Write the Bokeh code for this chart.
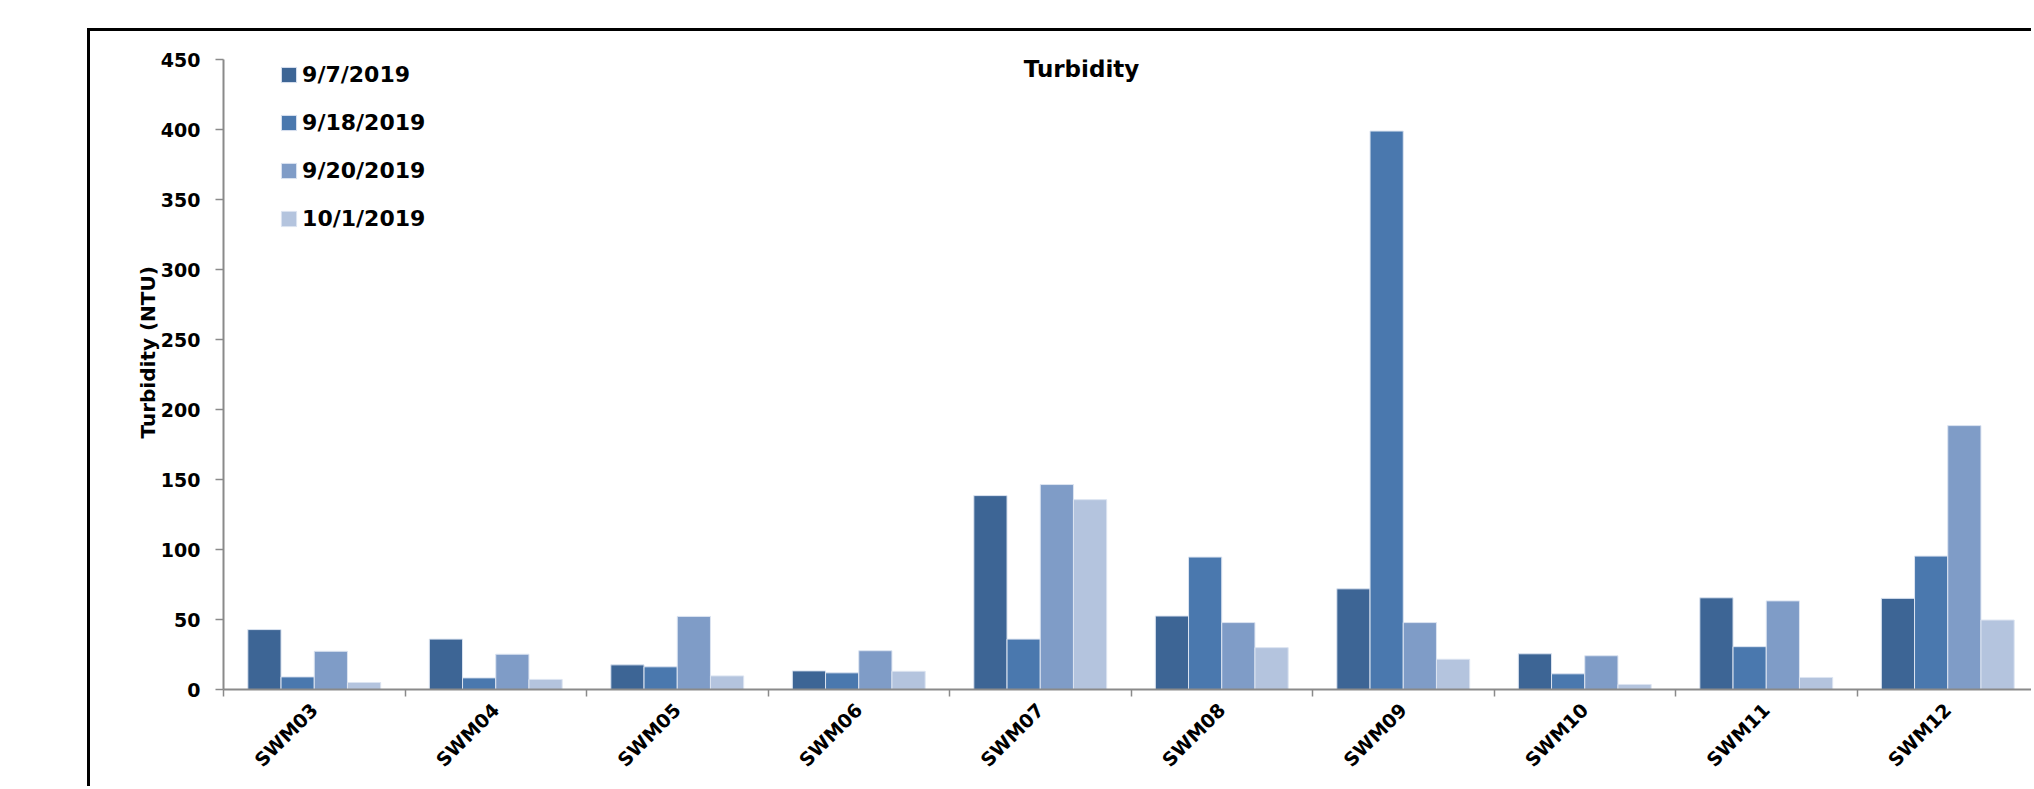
import math
import numpy as np
from bokeh.plotting import figure
from bokeh.models import Range1d, FixedTicker, Legend, LegendItem, Label, Title
from bokeh.embed import file_html
from bokeh.resources import INLINE

# Turbidity readings (NTU) per monitoring site and sampling date
sites = ["SWM03", "SWM04", "SWM05", "SWM06", "SWM07",
         "SWM08", "SWM09", "SWM10", "SWM11", "SWM12"]
dates = ["9/7/2019", "9/18/2019", "9/20/2019", "10/1/2019"]
turb_0907 = [42.8, 36.0, 17.6, 13.3, 138.5, 52.5, 71.9, 25.5, 65.5, 65.1]
turb_0918 = [9.0, 8.3, 16.2, 11.9, 36.0, 94.6, 398.9, 11.2, 30.6, 95.3]
turb_0920 = [27.3, 25.2, 52.2, 27.7, 146.4, 47.8, 47.8, 24.1, 63.3, 188.5]
turb_1001 = [5.0, 7.2, 9.7, 13.0, 135.6, 29.9, 21.6, 3.6, 8.6, 49.6]
y_ticks = [0, 50, 100, 150, 200, 250, 300, 350, 400, 450]

series = [turb_0907, turb_0918, turb_0920, turb_1001]
colors = ["#3D6595", "#4A78AE", "#7F9CC7", "#B4C4DE"]

FONT = "DejaVu Sans"
AXIS_GREY = "#8A8A8A"

# the chart area sits inside a black frame line on its left and top edges
OFF_X, OFF_Y = 90, 31
W, H = 2034 - OFF_X, 789 - OFF_Y
LEFT, TOP = 223 - OFF_X, 59 - OFF_Y
BOTTOM = H - (689 - OFF_Y)
frame_h = H - TOP - BOTTOM
cat_px = 181.5
x_end = (W - LEFT) / cat_px

p = figure(width=W, height=H, output_backend="svg", toolbar_location=None,
           x_range=Range1d(0, x_end), y_range=Range1d(0, 450),
           min_border_left=LEFT, min_border_right=0,
           min_border_top=TOP, min_border_bottom=BOTTOM)
p.styles = {"margin-left": f"{OFF_X - 3}px", "margin-top": f"{OFF_Y - 3}px",
            "border-left": "3px solid black", "border-top": "3px solid black"}
p.outline_line_color = None
p.xgrid.visible = False
p.ygrid.visible = False
p.background_fill_color = "white"
p.border_fill_color = "white"

# grouped bars: four dates side by side inside each site slot
centers = np.arange(len(sites)) + 0.5
bar_w = 0.183
items = []
for j, (vals, col, lab) in enumerate(zip(series, colors, dates)):
    xs = centers + (j - 1.5) * bar_w
    r = p.vbar(x=xs, top=vals, width=bar_w, bottom=0,
               fill_color=col, line_color="#DCE4F1", line_width=1)
    items.append(LegendItem(label=lab, renderers=[r]))

# y axis
ya = p.yaxis[0]
ya.ticker = FixedTicker(ticks=y_ticks)
ya.axis_line_color = AXIS_GREY
ya.axis_line_width = 2
ya.major_tick_line_color = AXIS_GREY
ya.major_tick_line_width = 1.5
ya.major_tick_out = 8
ya.major_tick_in = 0
ya.minor_tick_line_color = None
ya.major_label_standoff = 15
ya.major_label_text_font = FONT
ya.major_label_text_font_style = "bold"
ya.major_label_text_font_size = "19px"
ya.major_label_text_color = "black"

# vertical axis title, starting a little above the lower quarter of the axis
p.add_layout(Title(text="Turbidity (NTU)", align="left",
                   offset=(TOP + frame_h) - (438 - OFF_Y),
                   standoff=-5, text_font=FONT, text_font_style="bold",
                   text_font_size="20px", text_color="black"), "left")

# x axis: labels under each site, short ticks at the slot boundaries
xa = p.xaxis[0]
xa.ticker = FixedTicker(ticks=list(centers),
                        minor_ticks=list(np.arange(len(sites) + 1)))
xa.major_label_overrides = {float(c): s for c, s in zip(centers, sites)}
xa.axis_line_color = AXIS_GREY
xa.axis_line_width = 2
xa.major_tick_line_color = None
xa.major_tick_out = 0
xa.major_tick_in = 0
xa.minor_tick_line_color = AXIS_GREY
xa.minor_tick_line_width = 1.5
xa.minor_tick_out = 7
xa.minor_tick_in = 0
xa.major_label_orientation = math.pi / 4
xa.major_label_standoff = 10
xa.major_label_text_font = FONT
xa.major_label_text_font_style = "bold"
xa.major_label_text_font_size = "19px"
xa.major_label_text_color = "black"

# legend, top left inside the plot area
GLYPH = 19
ROW_H, GAP = 34, 14
leg_h = 4 * ROW_H + 3 * GAP
leg_top = 57.8 - OFF_Y
leg_left = 279.1 - OFF_X
legend = Legend(items=items,
                location=(leg_left - LEFT, (TOP + frame_h) - (leg_top + leg_h)),
                orientation="vertical",
                glyph_width=GLYPH, glyph_height=GLYPH, label_height=ROW_H,
                spacing=GAP, padding=0, margin=0, label_standoff=4,
                label_text_font=FONT, label_text_font_style="bold",
                label_text_font_size="22px", label_text_color="black",
                border_line_color=None, background_fill_alpha=0)
p.add_layout(legend, "center")

# chart title
p.add_layout(Label(x=1081 - OFF_X - LEFT, y=(TOP + frame_h) - (68.3 - OFF_Y),
                   x_units="screen", y_units="screen", text="Turbidity",
                   text_align="center", text_baseline="alphabetic",
                   text_font=FONT, text_font_style="bold",
                   text_font_size="23px", text_color="black"))

open("out.html", "w").write(file_html(p, INLINE))
